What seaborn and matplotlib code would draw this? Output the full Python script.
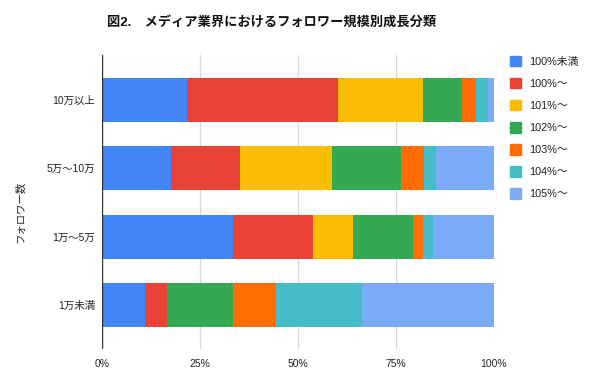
import numpy as np
import pandas as pd
import matplotlib
matplotlib.use("Agg")
import matplotlib.pyplot as plt
import matplotlib.patches as mpatches
import seaborn as sns

categories = ["10万以上", "5万～10万", "1万～5万", "1万未満"]
series = ["100%未満", "100%～", "101%～", "102%～", "103%～", "104%～", "105%～"]
colors = ["#4285F4", "#EA4335", "#FBBC04", "#34A853", "#FF6D01", "#46BDC6", "#7BAAF7"]

s_lt100 = [21.6, 17.5, 33.3, 11.0]
s_100 = [38.6, 17.7, 20.4, 5.6]
s_101 = [21.6, 23.5, 10.3, 0.0]
s_102 = [10.0, 17.6, 15.3, 16.7]
s_103 = [3.5, 5.9, 2.5, 11.0]
s_104 = [3.2, 2.9, 2.6, 21.9]
s_105 = [1.5, 14.9, 15.6, 33.8]

xticks = [0, 25, 50, 75, 100]
xticklabels = ["0%", "25%", "50%", "75%", "100%"]
title = "図2.　メディア業界におけるフォロワー規模別成長分類"
ylabel = "フォロワー数"

sns.set_style("white")
plt.rcParams["font.family"] = ["Liberation Sans", "Noto Sans CJK JP", "DejaVu Sans"]

vals = np.array([s_lt100, s_100, s_101, s_102, s_103, s_104, s_105]).T
cum = np.cumsum(vals, axis=1)

fig = plt.figure(figsize=(6.0, 3.84), dpi=100)
ax = fig.add_axes([102/600, 1-349/384, 392/600, 294/384])

for x in xticks[1:]:
    ax.axvline(x, color="#d8d8d8", lw=0.9, zorder=0)

for i in reversed(range(len(series))):
    df = pd.DataFrame({"cat": categories, "val": cum[:, i]})
    sns.barplot(data=df, x="val", y="cat", orient="h", color=colors[i],
                width=0.644, linewidth=0, saturation=1, ax=ax, zorder=2)

ax.axvline(0, color="#333333", lw=1.0, zorder=3)
ax.set_xlim(0, 100)
ax.set_ylim(3.645, -0.66)
ax.set_xticks(xticks)
ax.set_xticklabels(xticklabels, fontsize=7.5, color="#222222")
ax.tick_params(axis="x", length=0, pad=7.5)
ax.tick_params(axis="y", length=0, pad=5, labelsize=7.5, labelcolor="#222222")
for sp in ax.spines.values():
    sp.set_visible(False)
ax.set_xlabel("")
ax.set_ylabel(ylabel, fontsize=7.5, color="#222222")
ax.yaxis.set_label_coords(-0.196, 0.466)

fig.text(272/600, 1-22/384, title, ha="center", va="center",
         fontsize=9.5, fontweight="bold", color="#111111")

handles = [mpatches.Patch(color=c, label=s) for c, s in zip(colors, series)]
fig.legend(handles=handles, loc="upper left", bbox_to_anchor=(510/600, 1-56/384),
           frameon=False, fontsize=7.8, handlelength=1.0, handleheight=1.1,
           handletextpad=0.8, labelspacing=1.03, borderaxespad=0, borderpad=0,
           labelcolor="#222222")

fig.savefig("out.png", dpi=100, facecolor="white")
